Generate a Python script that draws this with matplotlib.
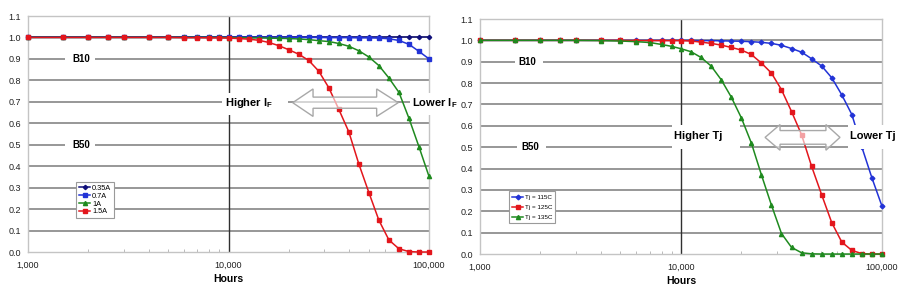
import matplotlib
matplotlib.use("Agg")
import matplotlib.pyplot as plt
import matplotlib.ticker as mtick
from matplotlib.patches import Polygon, Rectangle

plt.rcParams['font.family'] = ['Liberation Sans', 'DejaVu Sans']
plt.rcParams['mathtext.fontset'] = 'custom'
plt.rcParams['mathtext.rm'] = 'Liberation Sans'
plt.rcParams['mathtext.bf'] = 'Liberation Sans:bold'

# --- data ---
hours = [1000, 1500, 2000, 2500, 3000, 4000, 5000, 6000, 7000, 8000, 9000,
         10000, 11220, 12589, 14125, 15849, 17783, 19953, 22387, 25119, 28184,
         31623, 35481, 39811, 44668, 50119, 56234, 63096, 70795, 79433, 89125, 100000]

# left chart: forward current
if_labels = ['0.35A', '0.7A', '1A', '1.5A']
r_035a = [1.0, 1.0, 1.0, 1.0, 1.0, 1.0, 1.0, 1.0, 1.0, 1.0, 1.0,
          1.0, 1.0, 1.0, 1.0, 1.0, 1.0, 1.0, 1.0, 1.0, 1.0,
          1.0, 1.0, 1.0, 1.0, 1.0, 1.0, 1.0, 1.0, 1.0, 1.0, 1.0]
r_07a = [1.0, 1.0, 1.0, 1.0, 1.0, 1.0, 1.0, 1.0, 1.0, 1.0, 1.0,
         1.0, 1.0, 1.0, 1.0, 1.0, 1.0, 1.0, 1.0, 1.0, 1.0,
         0.999, 0.999, 0.999, 0.998, 0.998, 0.997, 0.994, 0.986, 0.968, 0.935, 0.90]
r_1a = [1.0, 1.0, 1.0, 1.0, 1.0, 1.0, 1.0, 1.0, 1.0, 1.0, 1.0,
        0.999, 0.999, 0.998, 0.998, 0.997, 0.996, 0.995, 0.993, 0.99, 0.985,
        0.981, 0.972, 0.959, 0.938, 0.909, 0.869, 0.811, 0.744, 0.623, 0.49, 0.352]
r_15a = [1.0, 1.0, 1.0, 1.0, 1.0, 1.0, 1.0, 0.999, 0.999, 0.998, 0.998,
         0.997, 0.995, 0.992, 0.987, 0.977, 0.962, 0.943, 0.922, 0.893, 0.843,
         0.766, 0.665, 0.56, 0.41, 0.277, 0.148, 0.056, 0.015, 0.002, 0.0, 0.0]

# right chart: junction temperature
tj_labels = ['Tj = 115C', 'Tj = 125C', 'Tj = 135C']
r_115c = [1.0, 1.0, 1.0, 1.0, 1.0, 1.0, 1.0, 1.0, 1.0, 1.0, 1.0,
          1.0, 1.0, 0.999, 0.999, 0.998, 0.997, 0.996, 0.994, 0.991, 0.986,
          0.977, 0.962, 0.945, 0.914, 0.88, 0.825, 0.745, 0.653, 0.50, 0.356, 0.224]
r_125c = [1.0, 1.0, 1.0, 1.0, 1.0, 1.0, 1.0, 0.999, 0.999, 0.999, 0.999,
          0.999, 0.997, 0.992, 0.986, 0.978, 0.967, 0.955, 0.934, 0.894, 0.847,
          0.769, 0.667, 0.558, 0.41, 0.277, 0.147, 0.056, 0.017, 0.002, 0.0, 0.0]
r_135c = [1.0, 1.0, 1.0, 1.0, 1.0, 0.999, 0.997, 0.994, 0.99, 0.981, 0.972,
          0.961, 0.947, 0.92, 0.88, 0.816, 0.735, 0.638, 0.52, 0.371, 0.229,
          0.096, 0.031, 0.006, 0.001, 0.0, 0.0, 0.0, 0.0, 0.0, 0.0, 0.0]

y_ticks = [0.0, 0.1, 0.2, 0.3, 0.4, 0.5, 0.6, 0.7, 0.8, 0.9, 1.0, 1.1]
y_grid = [0.1, 0.2, 0.3, 0.4, 0.5, 0.6, 0.7, 0.8, 0.9, 1.0]
x_ticks = [1000, 10000, 100000]

NAVY = '#10107a'
BLUE = '#2233d6'
GREEN = '#1f8a1f'
RED = '#e3161c'


def setup_axes(ax):
    ax.set_xscale('log')
    ax.set_xlim(1000, 100000)
    ax.set_ylim(0, 1.1)
    ax.set_yticks(y_ticks)
    ax.yaxis.set_major_formatter(mtick.FormatStrFormatter('%.1f'))
    ax.set_xticks(x_ticks)
    ax.xaxis.set_major_formatter(mtick.FuncFormatter(lambda v, p: f'{v:,.0f}'))
    ax.xaxis.set_minor_locator(mtick.LogLocator(base=10, subs=range(2, 10)))
    ax.xaxis.set_minor_formatter(mtick.NullFormatter())
    ax.tick_params(axis='both', which='major', length=0, labelsize=6.5, colors='#222222')
    ax.tick_params(axis='y', pad=5)
    ax.tick_params(axis='x', pad=6)
    ax.tick_params(axis='x', which='minor', direction='in', length=2.5, color='#b0b0b0')
    for s in ax.spines.values():
        s.set_color('#c4c4c4')
        s.set_linewidth(1)
    for y in y_grid:
        ax.axhline(y, color='#858585', lw=1.2, zorder=1)
    ax.axvline(10000, color='#303030', lw=1, zorder=1)
    ax.set_xlabel('Hours', fontsize=7.5, fontweight='bold', labelpad=3)


def white_box(ax, x0, x1, y0, y1):
    ax.add_patch(Rectangle((x0, y0), x1 - x0, y1 - y0, fc='white', ec='none',
                           zorder=3.5, clip_on=False))


def double_arrow(ax, x0, x1, xh0, xh1, yc, body, head):
    verts = [(x0, yc), (xh0, yc + head), (xh0, yc + body), (xh1, yc + body),
             (xh1, yc + head), (x1, yc), (xh1, yc - head), (xh1, yc - body),
             (xh0, yc - body), (xh0, yc - head)]
    ax.add_patch(Polygon(verts, closed=True, fc=(1, 1, 1, 0.6), ec='#a8a8a8',
                         lw=1, zorder=4))


fig = plt.figure(figsize=(9, 2.91), dpi=100)
ax1 = fig.add_axes([0.0311, 0.134, 0.4456, 0.811])
ax2 = fig.add_axes([0.5333, 0.127, 0.4467, 0.8076])

# left chart
setup_axes(ax1)
left_series = [(r_035a, NAVY, 'D', 2.2), (r_07a, BLUE, 's', 2.2),
               (r_1a, GREEN, '^', 3.0), (r_15a, RED, 's', 3.0)]
for lab, (vals, c, m, ms) in zip(if_labels, left_series):
    ax1.plot(hours, vals, color=c, marker=m, ms=ms, lw=1.1, label=lab,
             zorder=3, clip_on=False)

white_box(ax1, 1530, 2160, 0.865, 0.935)
ax1.text(1660, 0.9, 'B10', fontsize=7, fontweight='bold', va='center', zorder=5)
white_box(ax1, 1530, 2160, 0.465, 0.535)
ax1.text(1660, 0.5, 'B50', fontsize=7, fontweight='bold', va='center', zorder=5)
white_box(ax1, 9280, 19800, 0.64, 0.743)
ax1.text(9600, 0.693, r'Higher I$_\mathbf{F}$', fontsize=8, fontweight='bold',
         va='center', zorder=5)
white_box(ax1, 80400, 190000, 0.64, 0.743)
ax1.text(82300, 0.693, r'Lower I$_\mathbf{F}$', fontsize=8, fontweight='bold',
         va='center', zorder=5, clip_on=False)
double_arrow(ax1, 20900, 70200, 26400, 54800, 0.696, 0.026, 0.064)

leg1 = ax1.legend(loc='lower left', bbox_to_anchor=(0.12, 0.144), fontsize=5.3,
                  frameon=True, fancybox=False, edgecolor='#9a9a9a', framealpha=1,
                  borderpad=0.35, labelspacing=0.1, handlelength=1.6,
                  handletextpad=0.2, borderaxespad=0)
leg1.get_frame().set_linewidth(0.8)
leg1.set_zorder(6)

# right chart
setup_axes(ax2)
right_series = [(r_115c, BLUE, 'D', 2.4), (r_125c, RED, 's', 3.0),
                (r_135c, GREEN, '^', 3.0)]
for lab, (vals, c, m, ms) in zip(tj_labels, right_series):
    ax2.plot(hours, vals, color=c, marker=m, ms=ms, lw=1.1, label=lab,
             zorder=3, clip_on=False)

white_box(ax2, 1493, 2059, 0.865, 0.935)
ax2.text(1545, 0.9, 'B10', fontsize=7, fontweight='bold', va='center', zorder=5)
white_box(ax2, 1520, 2120, 0.465, 0.535)
ax2.text(1600, 0.5, 'B50', fontsize=7, fontweight='bold', va='center', zorder=5)
white_box(ax2, 9020, 19660, 0.492, 0.604)
ax2.text(9230, 0.553, 'Higher Tj', fontsize=8, fontweight='bold',
         va='center', zorder=5)
white_box(ax2, 67700, 140000, 0.492, 0.604)
ax2.text(69300, 0.553, 'Lower Tj', fontsize=8, fontweight='bold',
         va='center', zorder=5, clip_on=False)
double_arrow(ax2, 26200, 61800, 31100, 52600, 0.546, 0.032, 0.06)

leg2 = ax2.legend(loc='lower left', bbox_to_anchor=(0.072, 0.132), fontsize=4.5,
                  frameon=True, fancybox=False, edgecolor='#9a9a9a', framealpha=1,
                  borderpad=0.5, labelspacing=0.75, handlelength=1.8,
                  handletextpad=0.2, borderaxespad=0)
leg2.get_frame().set_linewidth(0.8)
leg2.set_zorder(6)

fig.savefig('out.png', dpi=100, facecolor='white')
